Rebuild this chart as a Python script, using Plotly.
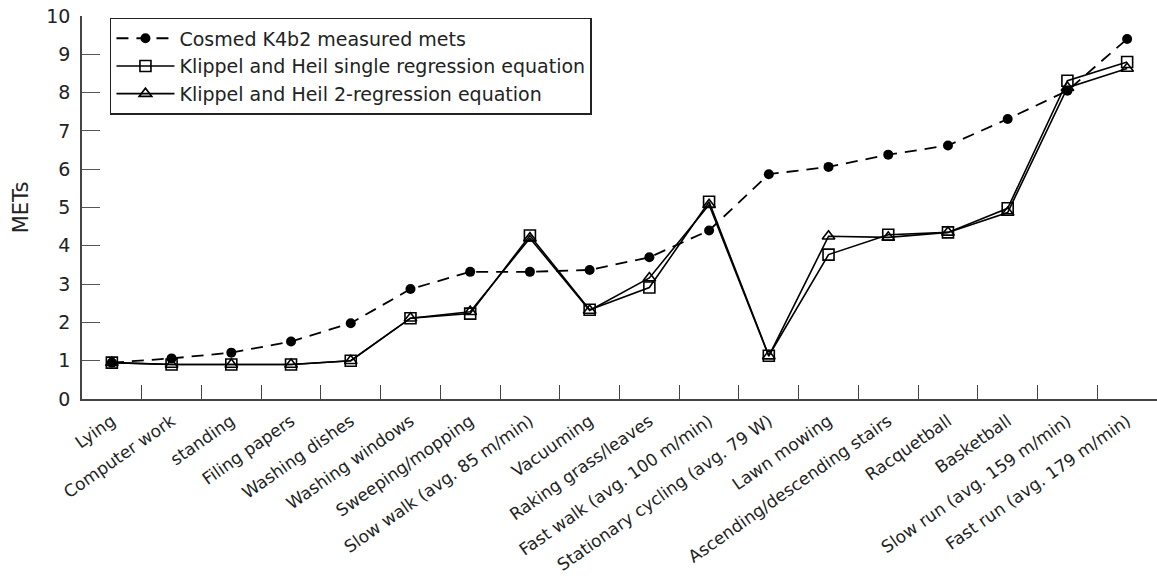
import plotly.graph_objects as go

activities = [
    "Lying", "Computer work", "standing", "Filing papers", "Washing dishes",
    "Washing windows", "Sweeping/mopping", "Slow walk (avg. 85 m/min)", "Vacuuming",
    "Raking grass/leaves", "Fast walk (avg. 100 m/min)", "Stationary cycling (avg. 79 W)",
    "Lawn mowing", "Ascending/descending stairs", "Racquetball", "Basketball",
    "Slow run (avg. 159 m/min)", "Fast run (avg. 179 m/min)",
]

cosmed_mets = [0.95, 1.06, 1.21, 1.50, 1.98, 2.87, 3.32, 3.32, 3.37, 3.70,
               4.40, 5.87, 6.06, 6.38, 6.62, 7.31, 8.05, 9.40]
single_eq = [0.95, 0.90, 0.90, 0.90, 1.00, 2.11, 2.23, 4.27, 2.33, 2.91,
             5.15, 1.13, 3.77, 4.29, 4.35, 4.98, 8.31, 8.80]
two_eq = [0.95, 0.90, 0.90, 0.90, 1.00, 2.11, 2.28, 4.20, 2.31, 3.16,
          5.07, 1.12, 4.25, 4.22, 4.35, 4.87, 8.13, 8.63]

font_family = "'DejaVu Sans', Verdana, sans-serif"

fig = go.Figure()
fig.add_trace(go.Scatter(
    x=activities, y=cosmed_mets, mode="lines+markers",
    name="Cosmed K4b2 measured mets",
    line=dict(color="black", width=1.8, dash="12px,8px"),
    marker=dict(symbol="circle", size=10, color="black"),
))
fig.add_trace(go.Scatter(
    x=activities, y=single_eq, mode="lines+markers",
    name="Klippel and Heil single regression equation",
    line=dict(color="black", width=1.6),
    marker=dict(symbol="square-open", size=11, color="black", line=dict(width=1.6)),
))
fig.add_trace(go.Scatter(
    x=activities, y=two_eq, mode="lines+markers",
    name="Klippel and Heil 2-regression equation",
    line=dict(color="black", width=1.6),
    marker=dict(symbol="triangle-up-open", size=11, color="black", line=dict(width=1.6)),
))

fig.update_layout(
    width=1157, height=581,
    margin=dict(l=82, r=0, t=16, b=182),
    paper_bgcolor="white", plot_bgcolor="white",
    font=dict(family=font_family, color="#222", size=16),
    showlegend=True,
    legend=dict(
        x=0.026, y=0.995, xanchor="left", yanchor="top",
        bordercolor="#222", borderwidth=1.5, bgcolor="white",
        font=dict(size=19), tracegroupgap=0, itemwidth=58,
    ),
    xaxis=dict(
        type="category", range=[-0.5, 17.5], automargin=False,
        showline=True, linecolor="#444", linewidth=1.5,
        ticks="inside", tickson="boundaries", ticklen=14, tickcolor="#444", tickwidth=1.2,
        tickangle=-35, tickfont=dict(size=17), ticklabelstandoff=4,
        showgrid=False, zeroline=False,
    ),
    yaxis=dict(
        range=[0, 10], dtick=1, automargin=False,
        showline=True, linecolor="#444", linewidth=1.5,
        ticks="inside", ticklen=18, tickcolor="#555", tickwidth=1.2,
        tickfont=dict(size=19), ticklabelstandoff=6, showgrid=False, zeroline=False,
        title=dict(text="METs", font=dict(size=21), standoff=12),
    ),
)

fig.write_html("out.html")
